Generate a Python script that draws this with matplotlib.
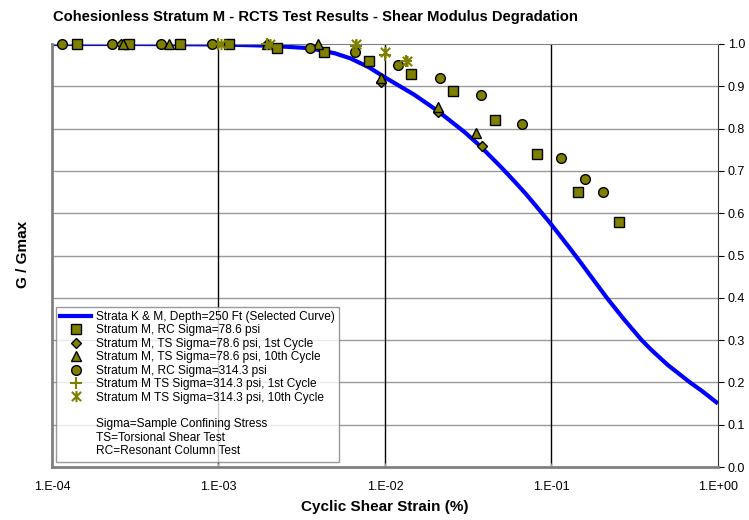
import matplotlib.pyplot as plt
from matplotlib.lines import Line2D
from matplotlib.path import Path
from matplotlib.ticker import FixedLocator, NullLocator

plt.rcParams['font.family'] = ['Liberation Sans', 'DejaVu Sans']

# selected design curve
curve_strain = [1e-4, 3e-4, 1e-3, 2e-3, 3.55e-3, 5e-3, 6.2e-3, 8e-3, 1e-2,
                1.5e-2, 2.07e-2, 3e-2, 3.7e-2, 4.95e-2, 6e-2, 7e-2, 8e-2,
                0.098, 0.11, 0.129, 0.15, 0.17, 0.215, 0.27, 0.348, 0.4, 0.5,
                0.679, 0.8, 1.0]
curve_ratio = [1.0, 1.0, 0.999, 0.996, 0.99, 0.978, 0.966, 0.945, 0.921,
               0.88, 0.842, 0.792, 0.76, 0.71, 0.675, 0.646, 0.619,
               0.577, 0.552, 0.517, 0.483, 0.454, 0.40, 0.351, 0.30, 0.276,
               0.241, 0.2, 0.18, 0.15]

# test results
rc78_strain = [1.41e-4, 2.91e-4, 5.9e-4, 1.16e-3, 2.25e-3, 4.31e-3, 8.0e-3,
               1.44e-2, 2.55e-2, 4.58e-2, 8.15e-2, 0.145, 0.255]
rc78_ratio = [1.0, 1.0, 1.0, 1.0, 0.99, 0.98, 0.96, 0.93, 0.89, 0.82, 0.74,
              0.65, 0.58]

ts78_1_strain = [2.6e-4, 1.95e-3, 9.46e-3, 2.07e-2, 3.81e-2]
ts78_1_ratio = [1.0, 1.0, 0.91, 0.84, 0.76]

ts78_10_strain = [2.66e-4, 5.05e-4, 1.95e-3, 3.98e-3, 9.46e-3, 2.07e-2, 3.53e-2]
ts78_10_ratio = [1.0, 1.0, 1.0, 1.0, 0.92, 0.85, 0.79]

rc314_strain = [1.15e-4, 2.29e-4, 4.5e-4, 9.2e-4, 3.55e-3, 6.64e-3, 1.2e-2,
                2.14e-2, 3.76e-2, 6.65e-2, 0.114, 0.16, 0.203]
rc314_ratio = [1.0, 1.0, 1.0, 1.0, 0.99, 0.98, 0.95, 0.92, 0.88, 0.81, 0.73,
               0.68, 0.65]

ts314_1_strain = [1.0e-3, 1.95e-3, 6.7e-3, 1.0e-2, 1.33e-2]
ts314_1_ratio = [1.0, 1.0, 0.995, 0.975, 0.96]

ts314_10_strain = [1.04e-3, 2.04e-3, 6.7e-3, 1.0e-2, 1.35e-2]
ts314_10_ratio = [1.0, 1.0, 1.0, 0.98, 0.96]

x_ticks = [1e-4, 1e-3, 1e-2, 1e-1, 1e0]
x_labels = ['1.E-04', '1.E-03', '1.E-02', '1.E-01', '1.E+00']
y_ticks = [0.0, 0.1, 0.2, 0.3, 0.4, 0.5, 0.6, 0.7, 0.8, 0.9, 1.0]

OLIVE = '#808000'

# X with a vertical stroke, spreadsheet-style star marker
STAR = Path([(-1, -1), (1, 1), (-1, 1), (1, -1), (0, -1.2), (0, 1.2)],
            [Path.MOVETO, Path.LINETO, Path.MOVETO, Path.LINETO,
             Path.MOVETO, Path.LINETO])

fig = plt.figure(figsize=(7.49, 5.2), dpi=100)
ax = fig.add_axes([0.0694, 0.1019, 0.8892, 0.8135])
ax.set_xscale('log')
ax.set_xlim(1e-4, 1e0)
ax.set_ylim(0, 1.0)

for y in y_ticks[1:-1]:
    ax.axhline(y, color='#999999', lw=1.0, zorder=0)
for x in x_ticks[1:-1]:
    ax.axvline(x, color='black', lw=1.0, zorder=0)

ax.plot(curve_strain, curve_ratio, color='#0000ff', lw=3, zorder=2,
        solid_capstyle='butt', solid_joinstyle='round')

mk = dict(linestyle='none', markersize=7, markerfacecolor=OLIVE,
          markeredgecolor='black', markeredgewidth=1.0, clip_on=False, zorder=3)
ax.plot(rc78_strain, rc78_ratio, marker='s', **mk)
ax.plot(ts78_1_strain, ts78_1_ratio, marker='D', **{**mk, 'markersize': 5.5})
ax.plot(ts78_10_strain, ts78_10_ratio, marker='^', **mk)
ax.plot(rc314_strain, rc314_ratio, marker='o', **mk)
ax.plot(ts314_1_strain, ts314_1_ratio, linestyle='none', marker='+',
        markersize=8, color=OLIVE, markeredgewidth=1.5, clip_on=False, zorder=3)
ax.plot(ts314_10_strain, ts314_10_ratio, linestyle='none', marker=STAR,
        markersize=8, color=OLIVE, markerfacecolor='none',
        markeredgewidth=1.5, clip_on=False, zorder=3)

ax.xaxis.set_major_locator(FixedLocator(x_ticks))
ax.xaxis.set_minor_locator(NullLocator())
ax.set_xticklabels(x_labels)
ax.tick_params(axis='x', direction='in', length=3, labelsize=9, pad=10,
               color='#999999')

ax.yaxis.tick_right()
ax.set_yticks(y_ticks)
ax.set_yticklabels(['%.1f' % v for v in y_ticks])
ax.tick_params(axis='y', direction='out', length=4, labelsize=9, pad=3)

for side in ['left', 'bottom', 'top']:
    ax.spines[side].set_color('#808080')
ax.spines['left'].set_linewidth(2)
ax.spines['bottom'].set_linewidth(2)
ax.spines['right'].set_color('#333333')

ax.set_xlabel('Cyclic Shear Strain (%)', fontsize=11, fontweight='bold',
              labelpad=5)
fig.text(0.031, 0.51, 'G / Gmax', rotation=90, fontsize=11, fontweight='bold',
         ha='center', va='center')
fig.text(0.071, 0.968, 'Cohesionless Stratum M - RCTS Test Results - '
         'Shear Modulus Degradation', fontsize=10.6, fontweight='bold',
         ha='left', va='center')

blank = Line2D([], [], linestyle='none')
handles = [
    Line2D([], [], color='#0000ff', lw=3),
    Line2D([], [], linestyle='none', marker='s', markersize=7,
           markerfacecolor=OLIVE, markeredgecolor='black'),
    Line2D([], [], linestyle='none', marker='D', markersize=5.5,
           markerfacecolor=OLIVE, markeredgecolor='black'),
    Line2D([], [], linestyle='none', marker='^', markersize=7,
           markerfacecolor=OLIVE, markeredgecolor='black'),
    Line2D([], [], linestyle='none', marker='o', markersize=7,
           markerfacecolor=OLIVE, markeredgecolor='black'),
    Line2D([], [], linestyle='none', marker='+', markersize=8,
           color=OLIVE, markeredgewidth=1.5),
    Line2D([], [], linestyle='none', marker=STAR, markersize=8,
           color=OLIVE, markerfacecolor='none', markeredgewidth=1.5),
    blank, blank, blank, blank,
]
labels = [
    'Strata K & M, Depth=250 Ft (Selected Curve)',
    'Stratum M, RC Sigma=78.6 psi',
    'Stratum M, TS Sigma=78.6 psi, 1st Cycle',
    'Stratum M, TS Sigma=78.6 psi, 10th Cycle',
    'Stratum M, RC Sigma=314.3 psi',
    'Stratum M TS Sigma=314.3 psi, 1st Cycle',
    'Stratum M TS Sigma=314.3 psi, 10th Cycle',
    '',
    'Sigma=Sample Confining Stress',
    'TS=Torsional Shear Test',
    'RC=Resonant Column Test',
]
leg = ax.legend(handles, labels, loc='lower left', bbox_to_anchor=(0.006, 0.013),
                fontsize=8.6, frameon=True, fancybox=False, handlelength=2.6,
                handletextpad=0.4, labelspacing=0.12, borderpad=0.35,
                borderaxespad=0)
leg.get_frame().set_edgecolor('#808080')
leg.get_frame().set_linewidth(1.0)

fig.savefig('out.png', dpi=100)
